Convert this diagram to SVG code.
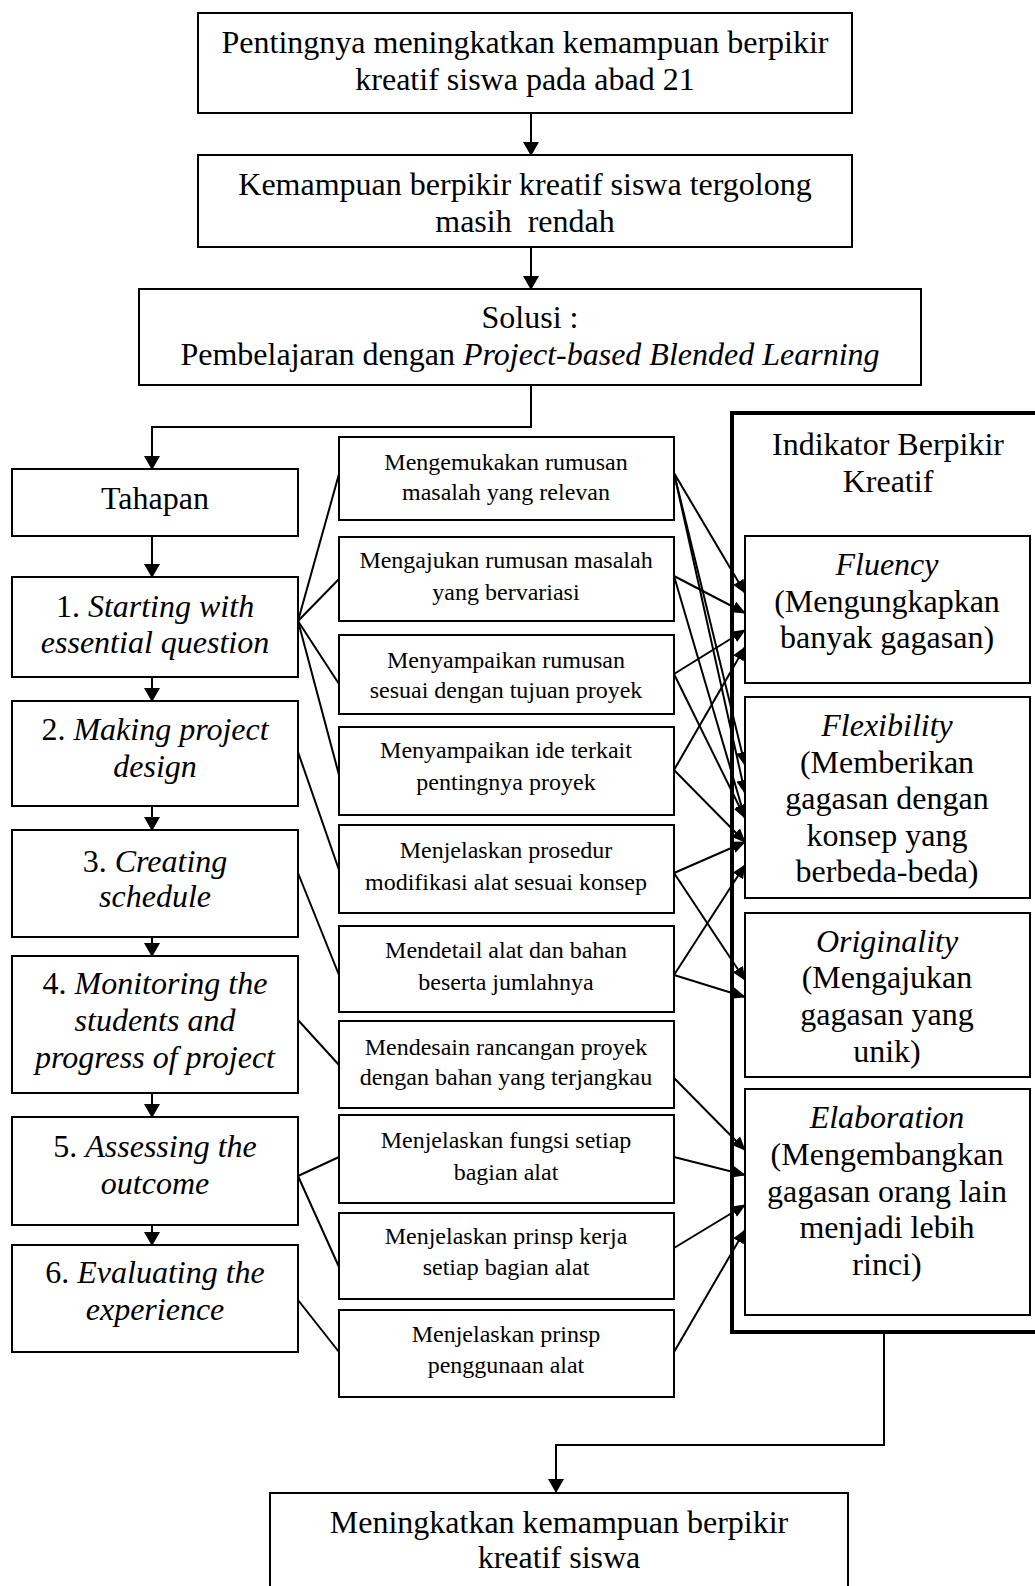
<svg xmlns="http://www.w3.org/2000/svg" width="1035" height="1586" viewBox="0 0 1035 1586">
<style>
.box{fill:#fff;stroke:#000;stroke-width:2}
.outer{fill:#fff;stroke:#000;stroke-width:4}
.t{font-family:"Liberation Serif","Times New Roman",serif;font-size:32px;fill:#000;text-anchor:middle}
.s{font-family:"Liberation Serif","Times New Roman",serif;font-size:24px;fill:#000;text-anchor:middle}
.i{font-style:italic}
.c{fill:none;stroke:#000;stroke-width:2}
.a{fill:none;stroke:#000;stroke-width:2;marker-end:url(#ah)}
.v{fill:none;stroke:#000;stroke-width:2;marker-end:url(#av)}
</style>
<defs>
<marker id="av" markerUnits="userSpaceOnUse" markerWidth="14" markerHeight="16" viewBox="0 0 14 16" refX="13" refY="8" orient="auto"><path d="M0,0 L14,8 L0,16 z" fill="#000"/></marker>
<marker id="ah" markerUnits="userSpaceOnUse" markerWidth="14" markerHeight="12" viewBox="0 0 14 12" refX="13" refY="6" orient="auto"><path d="M0,0 L14,6 L0,12 z" fill="#000"/></marker>
</defs>
<rect width="1035" height="1586" fill="#fff"/>

<g id="n-indikator">
<rect class="outer" x="732" y="413" width="310" height="919"/>
<text class="t" x="888" y="455">Indikator Berpikir</text>
<text class="t" x="888" y="492">Kreatif</text>
</g>

<g id="connectors">
<path class="v" d="M531,113 V155"/>
<path class="v" d="M531,247 V289"/>
<path class="v" d="M531,385 V427 H152 V469"/>
<path class="v" d="M152,536 V577"/>
<path class="v" d="M152,677 V701"/>
<path class="v" d="M152,806 V830"/>
<path class="v" d="M152,937 V956"/>
<path class="v" d="M152,1093 V1117"/>
<path class="v" d="M152,1225 V1245"/>
<path class="v" d="M884,1332 V1445 H556 V1492"/>
<line class="c" x1="298" y1="621" x2="339" y2="474"/>
<line class="c" x1="298" y1="621" x2="339" y2="579"/>
<line class="c" x1="298" y1="621" x2="339" y2="684"/>
<line class="c" x1="298" y1="621" x2="339" y2="775"/>
<line class="c" x1="298" y1="752" x2="339" y2="870"/>
<line class="c" x1="298" y1="873" x2="339" y2="975"/>
<line class="c" x1="298" y1="1020" x2="339" y2="1065"/>
<line class="c" x1="298" y1="1176" x2="339" y2="1157"/>
<line class="c" x1="298" y1="1176" x2="339" y2="1267"/>
<line class="c" x1="298" y1="1300" x2="339" y2="1352"/>
<line class="a" x1="674" y1="473" x2="745" y2="593"/>
<line class="a" x1="674" y1="473" x2="745" y2="765"/>
<line class="a" x1="674" y1="473" x2="745" y2="793"/>
<line class="a" x1="674" y1="576" x2="745" y2="613"/>
<line class="a" x1="674" y1="576" x2="745" y2="818"/>
<line class="a" x1="674" y1="674" x2="745" y2="630"/>
<line class="a" x1="674" y1="674" x2="745" y2="818"/>
<line class="a" x1="674" y1="770" x2="745" y2="647"/>
<line class="a" x1="674" y1="770" x2="745" y2="842"/>
<line class="a" x1="674" y1="873" x2="745" y2="842"/>
<line class="a" x1="674" y1="873" x2="745" y2="980"/>
<line class="a" x1="674" y1="975" x2="745" y2="865"/>
<line class="a" x1="674" y1="975" x2="745" y2="997"/>
<line class="a" x1="674" y1="1078" x2="745" y2="1150"/>
<line class="a" x1="674" y1="1157" x2="745" y2="1175"/>
<line class="a" x1="674" y1="1248" x2="745" y2="1205"/>
<line class="a" x1="674" y1="1352" x2="745" y2="1230"/>
</g>

<g id="n-pentingnya">
<rect class="box" x="198" y="13" width="654" height="100"/>
<text class="t" x="525" y="53">Pentingnya meningkatkan kemampuan berpikir</text>
<text class="t" x="525" y="90">kreatif siswa pada abad 21</text>
</g>
<g id="n-rendah">
<rect class="box" x="198" y="155" width="654" height="92"/>
<text class="t" x="525" y="195">Kemampuan berpikir kreatif siswa tergolong</text>
<text class="t" x="525" y="232" xml:space="preserve">masih  rendah</text>
</g>
<g id="n-solusi">
<rect class="box" x="139" y="289" width="782" height="96"/>
<text class="t" x="530" y="328">Solusi :</text>
<text class="t" x="530" y="365">Pembelajaran dengan <tspan class="i">Project-based Blended Learning</tspan></text>
</g>

<g id="n-tahapan">
<rect class="box" x="12" y="469" width="286" height="67"/>
<text class="t" x="155" y="509">Tahapan</text>
</g>
<g id="n-step1">
<rect class="box" x="12" y="577" width="286" height="100"/>
<text class="t" x="155" y="617">1. <tspan class="i">Starting with</tspan></text>
<text class="t i" x="155" y="653">essential question</text>
</g>
<g id="n-step2">
<rect class="box" x="12" y="701" width="286" height="105"/>
<text class="t" x="155" y="740">2. <tspan class="i">Making project</tspan></text>
<text class="t i" x="155" y="777">design</text>
</g>
<g id="n-step3">
<rect class="box" x="12" y="830" width="286" height="107"/>
<text class="t" x="155" y="872">3. <tspan class="i">Creating</tspan></text>
<text class="t i" x="155" y="907">schedule</text>
</g>
<g id="n-step4">
<rect class="box" x="12" y="956" width="286" height="137"/>
<text class="t" x="155" y="994">4. <tspan class="i">Monitoring the</tspan></text>
<text class="t i" x="155" y="1031">students and</text>
<text class="t i" x="155" y="1068">progress of project</text>
</g>
<g id="n-step5">
<rect class="box" x="12" y="1117" width="286" height="108"/>
<text class="t" x="155" y="1157">5. <tspan class="i">Assessing the</tspan></text>
<text class="t i" x="155" y="1194">outcome</text>
</g>
<g id="n-step6">
<rect class="box" x="12" y="1245" width="286" height="107"/>
<text class="t" x="155" y="1283">6. <tspan class="i">Evaluating the</tspan></text>
<text class="t i" x="155" y="1320">experience</text>
</g>

<g id="n-m1"><rect class="box" x="339" y="437" width="335" height="83"/>
<text class="s" x="506" y="470">Mengemukakan rumusan</text><text class="s" x="506" y="500">masalah yang relevan</text></g>
<g id="n-m2"><rect class="box" x="339" y="537" width="335" height="84"/>
<text class="s" x="506" y="568">Mengajukan rumusan masalah</text><text class="s" x="506" y="600">yang bervariasi</text></g>
<g id="n-m3"><rect class="box" x="339" y="635" width="335" height="79"/>
<text class="s" x="506" y="668">Menyampaikan rumusan</text><text class="s" x="506" y="698">sesuai dengan tujuan proyek</text></g>
<g id="n-m4"><rect class="box" x="339" y="727" width="335" height="88"/>
<text class="s" x="506" y="758">Menyampaikan ide terkait</text><text class="s" x="506" y="790">pentingnya proyek</text></g>
<g id="n-m5"><rect class="box" x="339" y="825" width="335" height="88"/>
<text class="s" x="506" y="858">Menjelaskan prosedur</text><text class="s" x="506" y="890">modifikasi alat sesuai konsep</text></g>
<g id="n-m6"><rect class="box" x="339" y="926" width="335" height="86"/>
<text class="s" x="506" y="958">Mendetail alat dan bahan</text><text class="s" x="506" y="990">beserta jumlahnya</text></g>
<g id="n-m7"><rect class="box" x="339" y="1021" width="335" height="87"/>
<text class="s" x="506" y="1055">Mendesain rancangan proyek</text><text class="s" x="506" y="1085">dengan bahan yang terjangkau</text></g>
<g id="n-m8"><rect class="box" x="339" y="1115" width="335" height="88"/>
<text class="s" x="506" y="1148">Menjelaskan fungsi setiap</text><text class="s" x="506" y="1180">bagian alat</text></g>
<g id="n-m9"><rect class="box" x="339" y="1213" width="335" height="86"/>
<text class="s" x="506" y="1244">Menjelaskan prinsp kerja</text><text class="s" x="506" y="1275">setiap bagian alat</text></g>
<g id="n-m10"><rect class="box" x="339" y="1310" width="335" height="87"/>
<text class="s" x="506" y="1342">Menjelaskan prinsp</text><text class="s" x="506" y="1373">penggunaan alat</text></g>

<g id="n-fluency"><rect class="box" x="745" y="536" width="285" height="147"/>
<text class="t i" x="887" y="575">Fluency</text>
<text class="t" x="887" y="612">(Mengungkapkan</text>
<text class="t" x="887" y="648">banyak gagasan)</text></g>
<g id="n-flexibility"><rect class="box" x="745" y="697" width="285" height="201"/>
<text class="t i" x="887" y="736">Flexibility</text>
<text class="t" x="887" y="773">(Memberikan</text>
<text class="t" x="887" y="809">gagasan dengan</text>
<text class="t" x="887" y="846">konsep yang</text>
<text class="t" x="887" y="882">berbeda-beda)</text></g>
<g id="n-originality"><rect class="box" x="745" y="913" width="285" height="164"/>
<text class="t i" x="887" y="952">Originality</text>
<text class="t" x="887" y="988">(Mengajukan</text>
<text class="t" x="887" y="1025">gagasan yang</text>
<text class="t" x="887" y="1062">unik)</text></g>
<g id="n-elaboration"><rect class="box" x="745" y="1089" width="285" height="226"/>
<text class="t i" x="887" y="1128">Elaboration</text>
<text class="t" x="887" y="1165">(Mengembangkan</text>
<text class="t" x="887" y="1202">gagasan orang lain</text>
<text class="t" x="887" y="1238">menjadi lebih</text>
<text class="t" x="887" y="1275">rinci)</text></g>

<g id="n-final"><rect class="box" x="270" y="1493" width="578" height="100"/>
<text class="t" x="559" y="1533">Meningkatkan kemampuan berpikir</text>
<text class="t" x="559" y="1568">kreatif siswa</text></g>
</svg>
